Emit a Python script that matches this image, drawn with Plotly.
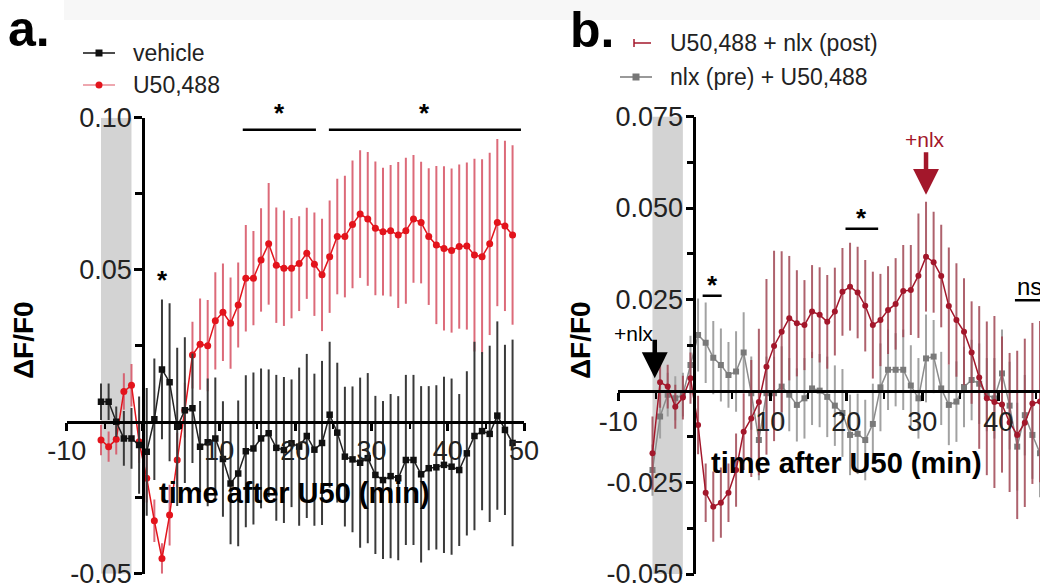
import plotly.graph_objects as go

# ---------------- data: panel a ----------------
time_a = [-5.5, -4.5, -3.5, -2.5, -1.5, -0.5, 0.5, 1.5, 2.5, 3.5, 4.5, 5.5, 6.5, 7.5, 8.5, 9.5,
          10.5, 11.5, 12.5, 13.5, 14.5, 15.5, 16.5, 17.5, 18.5, 19.5, 20.5, 21.5, 22.5, 23.5,
          24.5, 25.5, 26.5, 27.5, 28.5, 29.5, 30.5, 31.5, 32.5, 33.5, 34.5, 35.5, 36.5, 37.5,
          38.5, 39.5, 40.5, 41.5, 42.5, 43.5, 44.5, 45.5, 46.5, 47.5, 48.5]

u50_mean = [-0.0060, -0.0082, -0.0058, 0.0099, 0.0120, -0.0066, -0.0186, -0.0326, -0.0450, -0.0307,
            -0.0126, 0.0038, 0.0219, 0.0255, 0.0250, 0.0332, 0.0360, 0.0324, 0.0384, 0.0472,
            0.0472, 0.0532, 0.0585, 0.0515, 0.0505, 0.0505, 0.0520, 0.0554, 0.0518, 0.0483,
            0.0543, 0.0609, 0.0609, 0.0649, 0.0683, 0.0667, 0.0636, 0.0625, 0.0628, 0.0614,
            0.0628, 0.0667, 0.0655, 0.0609, 0.0581, 0.0570, 0.0563, 0.0576, 0.0578, 0.0548,
            0.0543, 0.0585, 0.0655, 0.0644, 0.0614]
u50_sem = [0.005, 0.005, 0.005, 0.006, 0.007, 0.007, 0.008, 0.007, 0.005, 0.010,
           0.009, 0.009, 0.011, 0.015, 0.015, 0.016, 0.016, 0.015, 0.014, 0.0175,
           0.0155, 0.017, 0.020, 0.019, 0.019, 0.0165, 0.0156, 0.015, 0.017, 0.0185,
           0.0185, 0.019, 0.020, 0.021, 0.021, 0.022, 0.022, 0.021, 0.0216, 0.024,
           0.024, 0.021, 0.020, 0.0225, 0.026, 0.027, 0.027, 0.027, 0.0275, 0.0317,
           0.032, 0.030, 0.0275, 0.028, 0.0295]

veh_mean = [0.0066, 0.0066, 0.0000, -0.0055, -0.0055, -0.0077, -0.0099, 0.0008, 0.0172, 0.0130,
            -0.0017, 0.0038, 0.0044, -0.0082, -0.0068, -0.0055, -0.0123, -0.0203, -0.0170, -0.0097,
            -0.0088, -0.0055, -0.0038, -0.0086, -0.0093, -0.0071, -0.0082, -0.0047, -0.0092, -0.0070,
            0.0023, -0.0036, -0.0115, -0.0124, -0.0135, -0.0120, -0.0175, -0.0192, -0.0179, -0.0186,
            -0.0126, -0.0126, -0.0173, -0.0153, -0.0150, -0.0142, -0.0148, -0.0159, -0.0104, -0.0047,
            -0.0031, -0.0040, 0.0020, -0.0027, -0.0070]
veh_sem = [0.006, 0.006, 0.005, 0.009, 0.010, 0.016, 0.021, 0.020, 0.023, 0.026,
           0.026, 0.024, 0.018, 0.015, 0.021, 0.020, 0.019, 0.020, 0.024, 0.025,
           0.025, 0.023, 0.021, 0.024, 0.024, 0.021, 0.026, 0.027, 0.025, 0.027,
           0.024, 0.023, 0.023, 0.024, 0.028, 0.028, 0.026, 0.026, 0.027, 0.027,
           0.028, 0.028, 0.029, 0.027, 0.027, 0.029, 0.029, 0.025, 0.027, 0.031,
           0.026, 0.029, 0.031, 0.028, 0.034]

# ---------------- data: panel b ----------------
time_b = [-5.5, -4.5, -3.5, -2.5, -1.5, -0.5, 0.5, 1.5, 2.5, 3.5, 4.5, 5.5, 6.5, 7.5, 8.5, 9.5,
          10.5, 11.5, 12.5, 13.5, 14.5, 15.5, 16.5, 17.5, 18.5, 19.5, 20.5, 21.5, 22.5, 23.5,
          24.5, 25.5, 26.5, 27.5, 28.5, 29.5, 30.5, 31.5, 32.5, 33.5, 34.5, 35.5, 36.5, 37.5,
          38.5, 39.5, 40.5, 41.5, 42.5, 43.5, 44.5, 45.5]

post_mean = [-0.0170, 0.0024, 0.0012, -0.0043, -0.0018, 0.0035, -0.0093, -0.0278, -0.0316, -0.0305,
             -0.0278, -0.0216, -0.0111, -0.0075, -0.0030, 0.0066, 0.0123, 0.0162, 0.0199, 0.0185,
             0.0180, 0.0217, 0.0208, 0.0189, 0.0217, 0.0271, 0.0285, 0.0269, 0.0233, 0.0180,
             0.0194, 0.0221, 0.0238, 0.0273, 0.0276, 0.0315, 0.0367, 0.0352, 0.0314, 0.0232,
             0.0194, 0.0162, 0.0105, 0.0037, -0.0020, -0.0030, -0.0037, -0.0086, -0.0120, -0.0087,
             -0.0034, -0.0029]
post_sem = [0.010, 0.007, 0.006, 0.006, 0.006, 0.007, 0.008, 0.008, 0.0096, 0.0096,
            0.008, 0.010, 0.0105, 0.016, 0.020, 0.024, 0.026, 0.022, 0.017, 0.0145,
            0.0123, 0.0127, 0.013, 0.0128, 0.012, 0.012, 0.012, 0.0125, 0.0125, 0.0146,
            0.0126, 0.012, 0.0125, 0.0126, 0.0123, 0.017, 0.015, 0.0138, 0.014, 0.016,
            0.0155, 0.0146, 0.014, 0.0195, 0.021, 0.0235, 0.0186, 0.019, 0.023, 0.023,
            0.022, 0.022]

pre_mean = [-0.0216, -0.0070, -0.0010, -0.0020, -0.0010, 0.0071, 0.0153, 0.0132, 0.0091, 0.0071,
            0.0044, 0.0053, 0.0105, -0.0006, -0.0134, -0.0006, -0.0006, 0.0012, -0.0010, -0.0038,
            -0.0020, 0.0007, 0.0001, -0.0016, -0.0040, -0.0060, -0.0120, -0.0117, -0.0134, -0.0090,
            0.0010, 0.0058, 0.0058, 0.0058, 0.0015, -0.0020, 0.0089, 0.0094, 0.0007, -0.0038,
            -0.0029, 0.0011, 0.0030, 0.0020, -0.0010, -0.0020, 0.0048, -0.0040, -0.0152, -0.0066,
            -0.0120, -0.0170]
pre_sem = [0.007, 0.006, 0.006, 0.006, 0.006, 0.008, 0.010, 0.011, 0.010, 0.010,
           0.009, 0.011, 0.011, 0.010, 0.011, 0.010, 0.010, 0.011, 0.010, 0.010,
           0.011, 0.010, 0.010, 0.011, 0.011, 0.012, 0.011, 0.011, 0.011, 0.011,
           0.012, 0.011, 0.010, 0.011, 0.011, 0.011, 0.012, 0.010, 0.010, 0.011,
           0.011, 0.011, 0.011, 0.011, 0.010, 0.011, 0.012, 0.012, 0.012, 0.011,
           0.012, 0.012]

# ---------------- styling helpers ----------------
W, H = 1040, 583
FONT = "Liberation Sans, Arial, sans-serif"
TICKC = "#222222"


def PX(x):
    return x / W


def PY(y):
    return 1 - y / H


RED_A = "#e3141c"
RED_A_BAR = "rgba(214,80,98,0.85)"
BLK = "#111111"
BLK_BAR = "#3a3a3a"
RED_B = "#a3172b"
RED_B_BAR = "rgba(160,70,84,0.85)"
GRY = "#7a7a7a"
GRY_BAR = "#a2a2a2"

fig = go.Figure()

# panel a traces (red first, black on top)
fig.add_trace(go.Scatter(
    x=time_a, y=u50_mean, mode="lines+markers", name="U50,488",
    line=dict(color=RED_A, width=1.5), marker=dict(color=RED_A, size=7, symbol="circle"),
    error_y=dict(type="data", array=u50_sem, color=RED_A_BAR, thickness=2, width=0),
    xaxis="x", yaxis="y", showlegend=False))
fig.add_trace(go.Scatter(
    x=time_a, y=veh_mean, mode="lines+markers", name="vehicle",
    line=dict(color="#222222", width=1.5), marker=dict(color=BLK, size=6.5, symbol="square"),
    error_y=dict(type="data", array=veh_sem, color=BLK_BAR, thickness=2, width=0),
    xaxis="x", yaxis="y", showlegend=False))

# panel b traces (gray first, red on top)
fig.add_trace(go.Scatter(
    x=time_b, y=pre_mean, mode="lines+markers", name="nlx (pre) + U50,488",
    line=dict(color="#8c8c8c", width=1.5), marker=dict(color=GRY, size=6, symbol="square"),
    error_y=dict(type="data", array=pre_sem, color=GRY_BAR, thickness=2, width=0),
    xaxis="x2", yaxis="y2", showlegend=False))
fig.add_trace(go.Scatter(
    x=time_b, y=post_mean, mode="lines+markers", name="U50,488 + nlx (post)",
    line=dict(color=RED_B, width=1.5), marker=dict(color=RED_B, size=6, symbol="circle"),
    error_y=dict(type="data", array=post_sem, color=RED_B_BAR, thickness=2, width=0),
    xaxis="x2", yaxis="y2", showlegend=False))

axis_common = dict(showgrid=False, zeroline=False, showline=True, linecolor="black",
                   linewidth=2.5, ticks="outside", ticklen=8, tickwidth=2.5, tickcolor="black",
                   automargin=False, ticklabeloverflow="allow",
                   tickfont=dict(family=FONT, size=27, color=TICKC))

shapes = []
annotations = []


def note(x, y, text, size, color="black", xanchor="center", yanchor="middle", angle=0, xref="paper",
         yref="paper", yshift=0):
    annotations.append(dict(xref=xref, yref=yref, x=x, y=y, text=text, showarrow=False,
                            xanchor=xanchor, yanchor=yanchor, textangle=angle, yshift=yshift,
                            font=dict(family=FONT, size=size, color=color)))


# light strip on top of the figure
shapes.append(dict(type="rect", xref="paper", yref="paper", x0=PX(64), x1=1, y0=PY(20), y1=1,
                   fillcolor="#f7f7f7", line=dict(width=0), layer="below"))

# gray injection bands
shapes.append(dict(type="rect", xref="x", yref="y", x0=-5.5, x1=-1.5, y0=-0.05, y1=0.10,
                   fillcolor="#d3d3d3", line=dict(width=0), layer="below"))
shapes.append(dict(type="rect", xref="x2", yref="y2", x0=-5.5, x1=-1.5, y0=-0.05, y1=0.075,
                   fillcolor="#d3d3d3", line=dict(width=0), layer="below"))

# significance bars panel a
for x0, x1 in [(13.1, 22.7), (24.4, 49.6)]:
    shapes.append(dict(type="line", xref="x", yref="y", x0=x0, x1=x1, y0=0.096, y1=0.096,
                       line=dict(color="black", width=2.5)))
    note((x0 + x1) / 2, 0.0985, "<b>*</b>", 26, xref="x", yref="y", yanchor="bottom", yshift=-8)
note(2.6, 0.0435, "<b>*</b>", 26, xref="x", yref="y", yanchor="bottom", yshift=-8)

# significance bars panel b
for x0, x1, yv in [(1.1, 3.6, 0.026), (19.9, 24.2, 0.0443)]:
    shapes.append(dict(type="line", xref="x2", yref="y2", x0=x0, x1=x1, y0=yv, y1=yv,
                       line=dict(color="black", width=2.5)))
    note((x0 + x1) / 2, yv, "<b>*</b>", 26, xref="x2", yref="y2", yanchor="bottom", yshift=-6)
# ns
shapes.append(dict(type="line", xref="x2", yref="y2", x0=42.2, x1=45.5, y0=0.0248, y1=0.0248,
                   line=dict(color="black", width=2.5)))
note(42.2, 0.0248, "ns", 24, xref="x2", yref="y2", xanchor="left", yanchor="bottom", yshift=-2)

# arrows panel b
annotations.append(dict(xref="x2", yref="y2", x=30.5, y=0.0536, ax=0, ay=-44, text="",
                        showarrow=True, arrowhead=2, arrowsize=1.15, arrowwidth=4.5,
                        arrowcolor=RED_B))
note(PX(925), PY(140), "+nlx", 21, color=RED_B)
annotations.append(dict(xref="x2", yref="y2", x=-5.2, y=0.0035, ax=0, ay=-40, text="",
                        showarrow=True, arrowhead=2, arrowsize=1.15, arrowwidth=4.5,
                        arrowcolor="black"))
note(PX(634), PY(333), "+nlx", 21)

# axis titles
note(PX(294), PY(493), "<b>time after U50 (min)</b>", 29)
note(PX(846), PY(463), "<b>time after U50 (min)</b>", 29)
note(PX(23), PY(340), "<b>ΔF/F0</b>", 28, angle=-90)
note(PX(580), PY(340), "<b>ΔF/F0</b>", 28, angle=-90)

# panel labels
note(PX(6), PY(29), "<b>a.</b>", 50, xanchor="left")
note(PX(568), PY(30), "<b>b.</b>", 50, xanchor="left")


# manual legends
def legend_entry(x0, x1, y, lcolor, mcolor, msym, text, tx, tick=False):
    shapes.append(dict(type="line", xref="paper", yref="paper", x0=PX(x0), x1=PX(x1),
                       y0=PY(y), y1=PY(y), line=dict(color=lcolor, width=1.5)))
    if tick:
        shapes.append(dict(type="line", xref="paper", yref="paper", x0=PX(x0), x1=PX(x0),
                           y0=PY(y - 4), y1=PY(y + 4), line=dict(color=lcolor, width=1.5)))
    if msym:
        c = (x0 + x1) / 2
        r = 3.5
        shapes.append(dict(type=msym, xref="paper", yref="paper", x0=PX(c - r), x1=PX(c + r),
                           y0=PY(y + r), y1=PY(y - r), fillcolor=mcolor, line=dict(width=0)))
    note(PX(tx), PY(y), text, 23, color=TICKC, xanchor="left")


legend_entry(83, 115, 53, "#111111", "#111111", "rect", "vehicle", 131)
legend_entry(83, 115, 85, "#e88a94", RED_A, "circle", "U50,488", 131)
legend_entry(634, 651, 43, RED_B, None, None, "U50,488 + nlx (post)", 668, tick=True)
legend_entry(620, 652, 77, "#777777", "#777777", "rect", "nlx (pre) + U50,488", 668)

fig.update_layout(
    width=W, height=H, autosize=False,
    margin=dict(l=0, r=0, t=0, b=0, pad=0, autoexpand=False),
    paper_bgcolor="white", plot_bgcolor="rgba(0,0,0,0)",
    showlegend=False,
    xaxis=dict(domain=[PX(66.7), PX(524)], range=[-10, 50], anchor="free", position=PY(421.7),
               tickvals=[-10, 0, 10, 20, 30, 40, 50], ticktext=["-10", "", "10", "20", "30", "40", "50"],
               ticklabelstandoff=-4,
               minor=dict(tickvals=[-5, 5, 15, 25, 35, 45], ticks="outside", ticklen=6,
                          tickwidth=2, tickcolor="black"),
               **axis_common),
    yaxis=dict(domain=[PY(573.7), PY(117.7)], range=[-0.05, 0.10], anchor="free", position=PX(143),
               tickvals=[-0.05, 0.05, 0.10], ticktext=["-0.05", "0.05", "0.10"],
               ticklabelstandoff=-3,
               minor=dict(tickvals=[-0.025, 0.025, 0.075], ticks="outside", ticklen=7,
                          tickwidth=2.5, tickcolor="black"),
               **axis_common),
    xaxis2=dict(domain=[PX(618.3), 1.0], range=[-10, 45.5], anchor="free", position=PY(391),
                tickvals=[-10, 0, 10, 20, 30, 40], ticktext=["-10", "", "10", "20", "30", "40"],
                ticklabelstandoff=-2,
                minor=dict(tickvals=[-5, 5, 15, 25, 35, 45], ticks="outside", ticklen=6,
                           tickwidth=2, tickcolor="black"),
                **axis_common),
    yaxis2=dict(domain=[PY(574), PY(116.5)], range=[-0.05, 0.075], anchor="free", position=PX(694.3),
                tickvals=[-0.05, -0.025, 0.025, 0.05, 0.075],
                ticktext=["-0.050", "-0.025", "0.025", "0.050", "0.075"],
                ticklabelstandoff=-3,
                minor=dict(tickvals=[-0.0375, -0.0125, 0.0125, 0.0375, 0.0625], ticks="outside",
                           ticklen=7, tickwidth=2.5, tickcolor="black"),
                **axis_common),
    shapes=shapes, annotations=annotations,
)

fig.write_html("out.html", config={"responsive": False, "displayModeBar": False},
               post_script="document.body.style.margin='0px';document.body.style.overflow='hidden';")
